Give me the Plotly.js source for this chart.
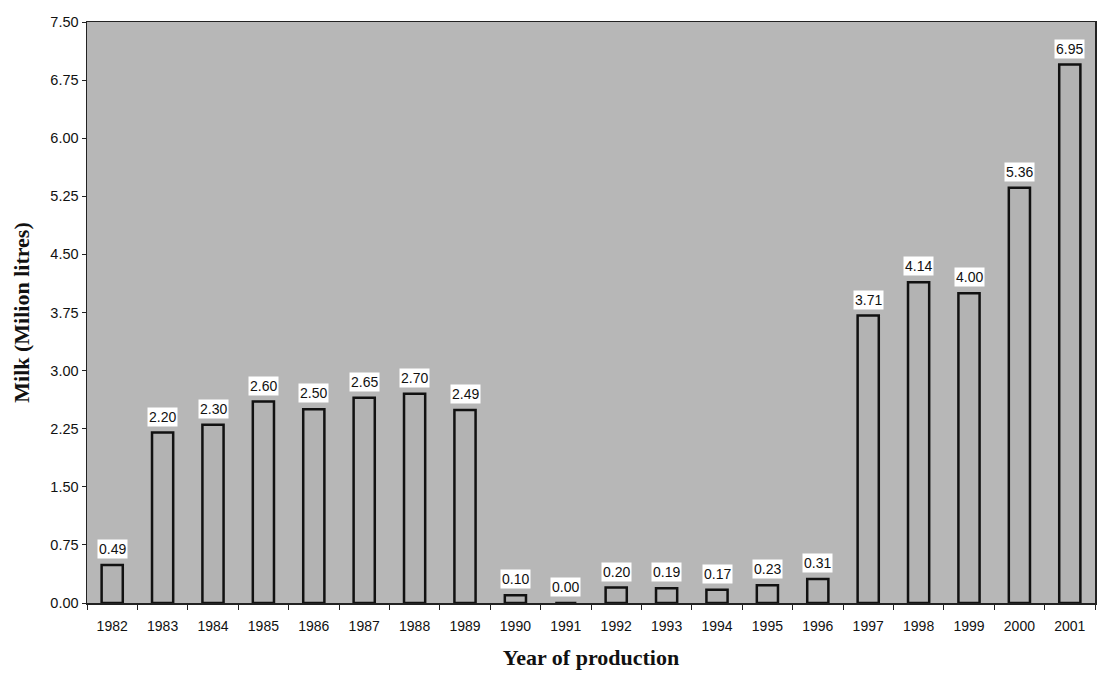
<!DOCTYPE html>
<html>
<head>
<meta charset="utf-8">
<script src="https://cdn.plot.ly/plotly-3.0.1.min.js"></script>
<style>html,body{margin:0;padding:0;background:#fff;}#chart{width:1100px;height:673px;}</style>
</head>
<body>
<div id="chart"></div>
<script>
const years = ['1982','1983','1984','1985','1986','1987','1988','1989','1990','1991','1992','1993','1994','1995','1996','1997','1998','1999','2000','2001'];
const milk = [0.49,2.20,2.30,2.60,2.50,2.65,2.70,2.49,0.10,0.00,0.20,0.19,0.17,0.23,0.31,3.71,4.14,4.00,5.36,6.95];
const yTicks = [0,0.75,1.5,2.25,3,3.75,4.5,5.25,6,6.75,7.5];

const trace = {
  type: 'bar',
  x: years,
  y: milk,
  width: 0.42,
  marker: {color: '#b3b3b3', line: {color: '#111', width: 2.5}},
  hoverinfo: 'x+y'
};

const annotations = years.map((yr, i) => ({
  x: i, y: milk[i], xref: 'x', yref: 'y',
  text: milk[i].toFixed(2),
  showarrow: false, yanchor: 'bottom', yshift: 6,
  bgcolor: '#ffffff', borderpad: 1,
  font: {family: 'Liberation Sans, Arial, sans-serif', size: 14, color: '#111'}
}));

const layout = {
  width: 1100, height: 673,
  margin: {l: 87, r: 5, t: 22, b: 70},
  paper_bgcolor: '#ffffff',
  plot_bgcolor: '#b7b7b7',
  showlegend: false,
  xaxis: {
    type: 'category',
    range: [-0.5, years.length - 0.5],
    autorange: false,
    showline: true, linecolor: '#222', linewidth: 1.5, mirror: true,
    ticks: 'outside', tickson: 'boundaries', ticklen: 5, tickcolor: '#222',
    ticklabelstandoff: 10,
    tickangle: 0,
    tickfont: {family: 'Liberation Sans, Arial, sans-serif', size: 14, color: '#111'},
    showgrid: false,
    title: {text: 'Year of production', standoff: 16,
      font: {family: 'Liberation Serif, Times New Roman, serif', size: 22, color: '#111', weight: 'bold'}}
  },
  yaxis: {
    range: [0, 7.5],
    autorange: false,
    tickvals: yTicks,
    ticktext: yTicks.map(v => v.toFixed(2)),
    showline: true, linecolor: '#222', linewidth: 1.5, mirror: true,
    ticks: 'outside', ticklen: 4, tickcolor: '#222',
    tickfont: {family: 'Liberation Sans, Arial, sans-serif', size: 14.5, color: '#111'},
    showgrid: false, zeroline: false,
    title: {text: 'Milk (Milion litres)', standoff: 14,
      font: {family: 'Liberation Serif, Times New Roman, serif', size: 22, color: '#111', weight: 'bold'}}
  },
  annotations: annotations
};

Plotly.newPlot('chart', [trace], layout, {displayModeBar: false, staticPlot: true});
</script>
</body>
</html>
